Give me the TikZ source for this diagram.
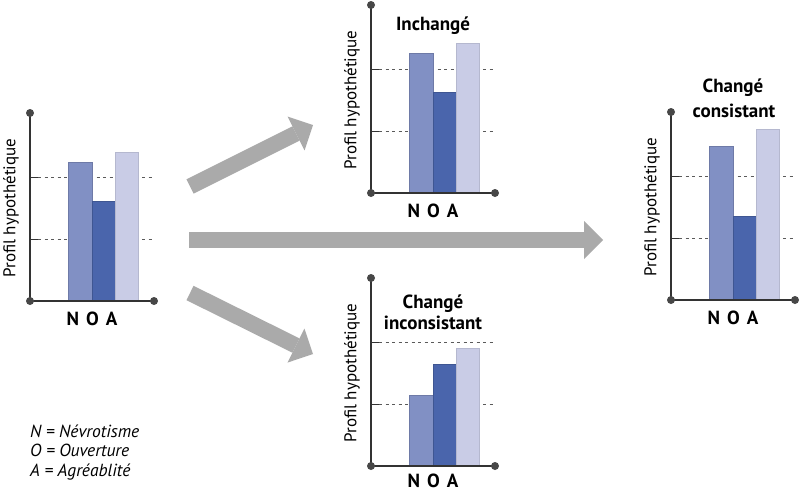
\documentclass[tikz,border=0pt]{standalone}
\usepackage{fontspec}
\setmainfont{PT Sans}
\usetikzlibrary{arrows.meta}
\definecolor{barN}{HTML}{8190C4}
\definecolor{barO}{HTML}{4A65AC}
\definecolor{barA}{HTML}{C9CCE6}
\definecolor{arrowgray}{HTML}{AAAAAA}
\definecolor{axisgray}{HTML}{333333}
\definecolor{dotgray}{HTML}{474747}
\definecolor{guidegray}{HTML}{5A5A5A}
\tikzset{
  axisline/.style={draw=axisgray, line width=1.6pt},
  guide/.style={draw=guidegray, line width=0.9pt, dash pattern=on 3pt off 3.5pt},
  tickline/.style={draw=axisgray, line width=0.9pt},
  dotmark/.style={fill=dotgray},
  nbar/.style={fill=barN, draw=barN!85!black, line width=0.4pt},
  obar/.style={fill=barO, draw=barO!85!black, line width=0.4pt},
  abar/.style={fill=barA, draw=barA!90!black, line width=0.4pt},
  ylab/.style={rotate=90, font=\fontsize{17}{19}\selectfont, inner sep=0pt},
  noalab/.style={font=\fontsize{19}{21}\selectfont\bfseries, inner sep=0pt, anchor=base},
  titlelab/.style={font=\fontsize{19}{22}\selectfont\bfseries, inner sep=0pt, anchor=base},
  legendlab/.style={font=\fontsize{17.5}{19.5}\selectfont\itshape, inner sep=0pt, anchor=base west},
  bigarrow/.style={draw=arrowgray, line width=16pt, -{Triangle[width=38pt,length=19pt,line width=0pt]}}
}
% #1 name, #2 axis x, #3 axis bottom y, #4 N height, #5 O height, #6 A height, #7 NOA baseline offset
\newcommand\drawchart[7]{%
  \begin{scope}[shift={(#2,#3)}]
    \draw[guide] (8,-62) -- (125,-62);
    \draw[guide] (8,-124) -- (125,-124);
    \draw[tickline] (0,-62) -- (8,-62);
    \draw[tickline] (0,-124) -- (8,-124);
    \filldraw[nbar] (38.5,0) rectangle (61.8,-#4);
    \filldraw[obar] (61.8,0) rectangle (85.1,-#5);
    \filldraw[abar] (85.1,0) rectangle (108.4,-#6);
    \draw[axisline] (0,-188) -- (0,0) -- (124,0);
    \fill[dotmark] (0,-188) circle (4pt);
    \fill[dotmark] (0,0) circle (4pt);
    \fill[dotmark] (124,0) circle (4pt);
    \node[ylab] (#1-ylab) at (-19,-93) {Profil hypothétique};
    \node[noalab] (#1-noa) at (62,#7) {N\hspace{7pt}O\hspace{7pt}A};
  \end{scope}}
\begin{document}
\begin{tikzpicture}[x=1pt,y=-1pt]
  \useasboundingbox (0,0) rectangle (800,493);
  \fill[white] (0,0) rectangle (800,493);
  % charts
  \drawchart{left}{30}{301}{139}{100}{149}{24}
  \drawchart{top}{371}{193}{140}{101}{150}{24}
  \drawchart{right}{671}{300}{154}{84}{171}{24}
  \drawchart{bottom}{371}{466}{71}{102}{118}{21}
  % titles
  \node[titlelab] (top-title) at (433,30) {Inchangé};
  \node[titlelab] (right-title1) at (733,92) {Changé};
  \node[titlelab] (right-title2) at (734,117) {consistant};
  \node[titlelab] (bottom-title1) at (433,308) {Changé};
  \node[titlelab] (bottom-title2) at (433,329) {inconsistant};
  % arrows
  \coordinate (a1s) at (190,186.5);
  \coordinate (a1e) at (313,125);
  \coordinate (a2s) at (189,240);
  \coordinate (a2e) at (603,240);
  \coordinate (a3s) at (190,293);
  \coordinate (a3e) at (313,354);
  \draw[bigarrow] (a1s) -- (a1e);
  \draw[bigarrow] (a2s) -- (a2e);
  \draw[bigarrow] (a3s) -- (a3e);
  % legend
  \node[legendlab] (legend1) at (30,437) {N = Névrotisme};
  \node[legendlab] (legend2) at (30,456.5) {O = Ouverture};
  \node[legendlab] (legend3) at (30,476) {A = Agréablité};
\end{tikzpicture}
\end{document}
